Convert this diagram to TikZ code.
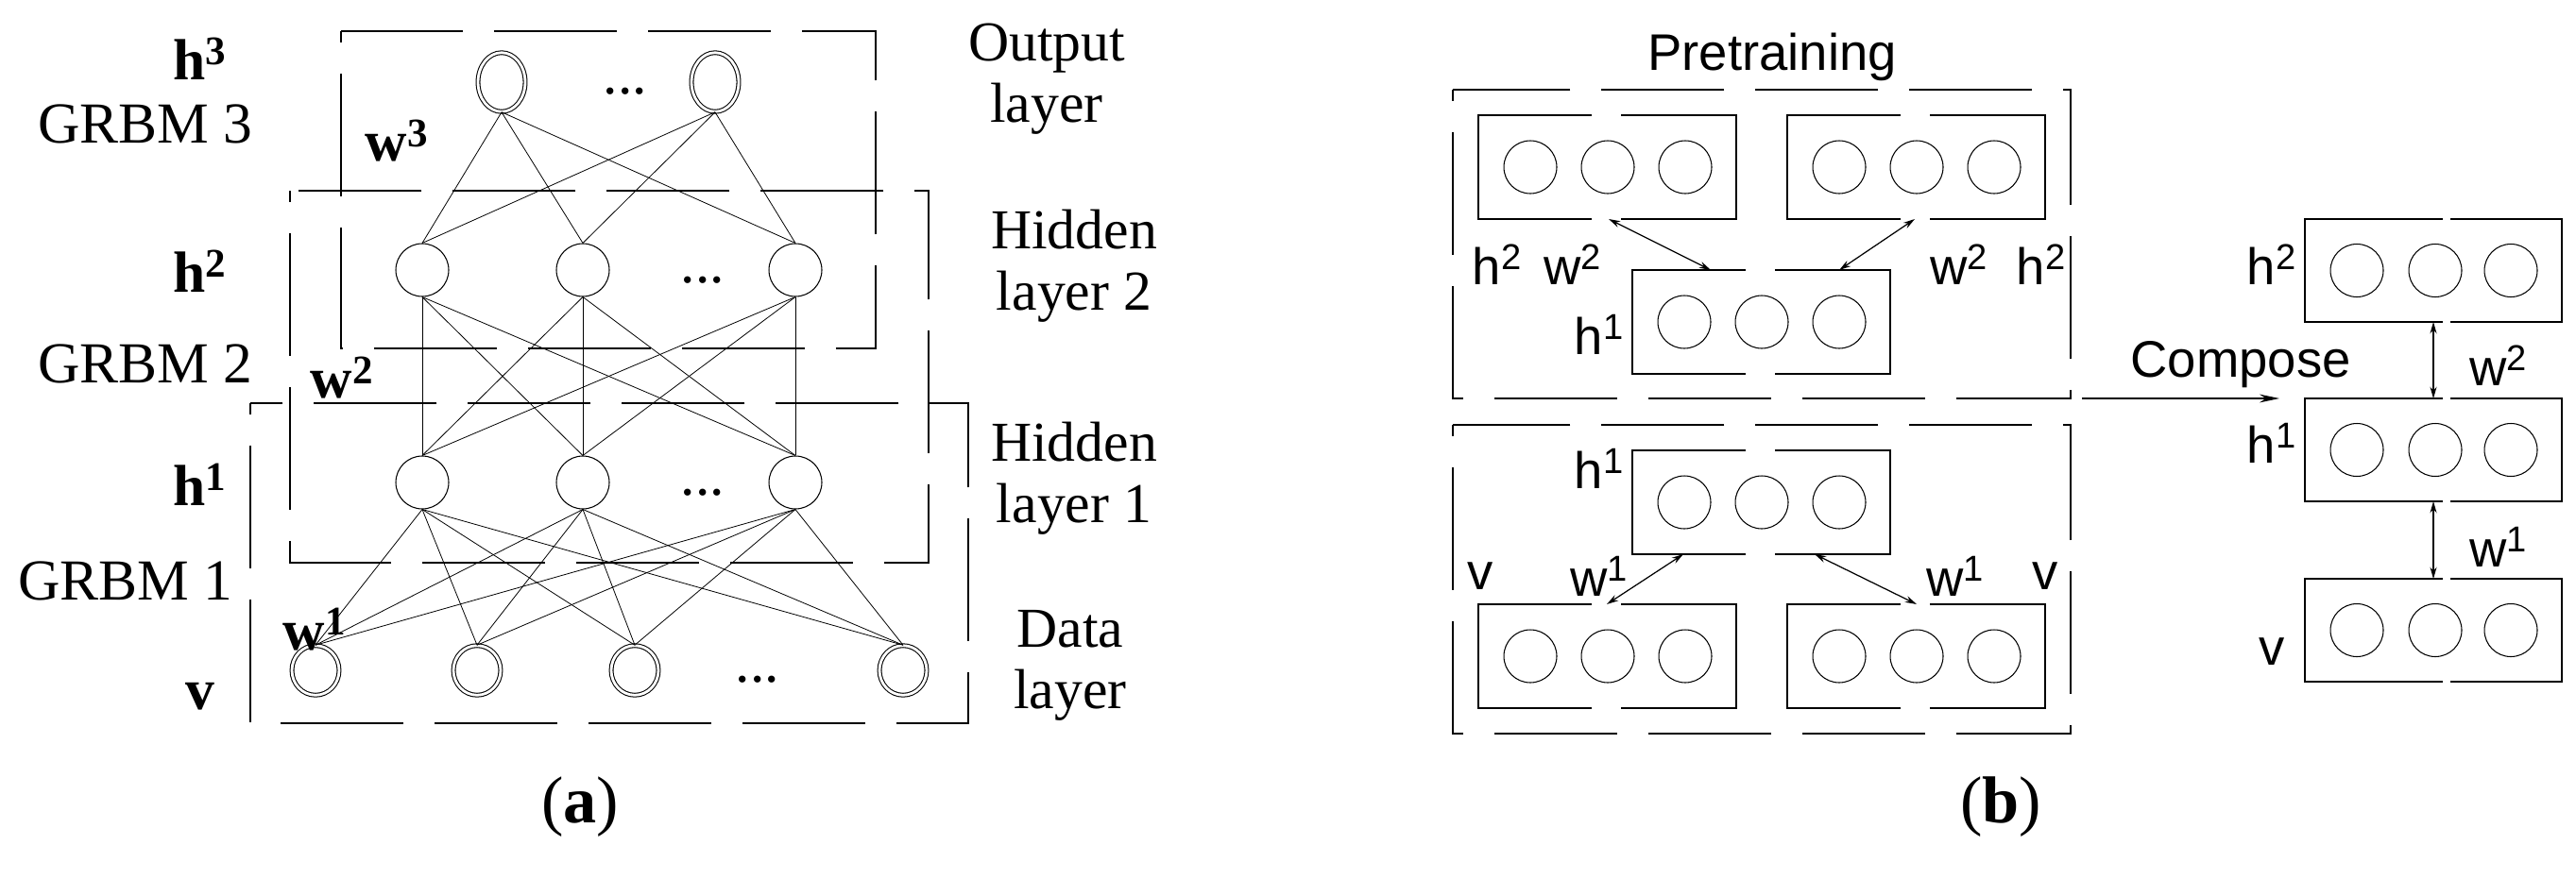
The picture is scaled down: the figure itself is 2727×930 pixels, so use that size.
\documentclass[tikz,border=0pt]{standalone}
\usepackage{fontspec}
\setmainfont{Liberation Serif}
\setsansfont{Liberation Sans}
\usetikzlibrary{shapes.geometric,arrows.meta}
\begin{document}
\begin{tikzpicture}[x=0.02cm,y=-0.02cm,
  unit/.style={draw,ellipse,inner sep=0,minimum width=1.12cm,minimum height=1.12cm,line width=0.6pt},
  dunit/.style={unit,double,double distance=1.6pt,minimum width=1.0cm,minimum height=1.05cm},
  ounit/.style={dunit,minimum height=1.25cm},
  frame/.style={line width=0.8pt,dash pattern=on 2.6cm off 0.66cm,dash phase=-0.9cm},
  ibox/.style={line width=0.8pt},
  link/.style={line width=0.45pt},
  dbl/.style={line width=0.7pt,{Stealth[length=7pt,width=4pt]}-{Stealth[length=7pt,width=4pt]}},
  slab/.style={font=\fontsize{35}{38}\selectfont,inner sep=0},
  rlab/.style={font=\fontsize{34}{37}\selectfont,align=center,inner sep=0},
  blab/.style={font=\fontsize{35}{38}\selectfont\bfseries,inner sep=0},
  sf/.style={font=\fontsize{31}{34}\sffamily,inner sep=0}]
\useasboundingbox (0,0) rectangle (2727,930);

% ---------- (a) ----------
\draw[frame] (361,33) rectangle (927,369);
\draw[frame] (307,202) rectangle (983,596);
\draw[frame] (265,427) rectangle (1025,766);

\node[ounit] (o1) at (531,87) {};
\node[ounit] (o2) at (757,87) {};
\node[slab] (od) at (662,97) {...};
\foreach \i/\x in {1/447,2/617,3/842} {
  \node[unit] (a\i) at (\x,286) {};
  \node[unit] (b\i) at (\x,511) {};
}
\node[slab] (ad) at (744,297) {...};
\node[slab] (bd) at (744,522) {...};
\foreach \i/\x in {1/334,2/505,3/672,4/956}
  \node[dunit] (v\i) at (\x,710) {};
\node[slab] (vd) at (802,720) {...};

\foreach \o in {o1,o2} \foreach \a in {a1,a2,a3}
  \draw[link] (\o.south) -- (\a.north);
\foreach \a in {a1,a2,a3} \foreach \b in {b1,b2,b3}
  \draw[link] (\a.south) -- (\b.north);
\foreach \b in {b1,b2,b3} \foreach \v in {v1,v2,v3,v4}
  \draw[link] (\b.south) -- (\v.north);

\node[blab] (lh3) at (212,62) {h\textsuperscript{3}};
\node[slab] (g3) at (154,131) {GRBM 3};
\node[blab] (lw3) at (420,149) {w\textsuperscript{3}};
\node[blab] (lh2) at (212,287) {h\textsuperscript{2}};
\node[slab] (g2) at (154,385) {GRBM 2};
\node[blab] (lw2) at (362,400) {w\textsuperscript{2}};
\node[blab] (lh1) at (212,513) {h\textsuperscript{1}};
\node[slab] (g1) at (133,615) {GRBM 1};
\node[blab] (lw1) at (333,667) {w\textsuperscript{1}};
\node[blab] (lv) at (212,738) {v};

\node[rlab] (tout) at (1108,84) {Output\\layer};
\node[rlab] (thid2) at (1137,282) {Hidden\\layer 2};
\node[rlab] (thid1) at (1137,507) {Hidden\\layer 1};
\node[rlab] (tdat) at (1133,705) {Data\\layer};

\node[font=\fontsize{40}{44}\selectfont,inner sep=0] (capa) at (614,855) {(\textbf{a})};

% ---------- (b) ----------
\node[sf] (pre) at (1876,60) {Pretraining};
\draw[frame] (1538,95) rectangle (2192,422);
\draw[frame] (1538,450) rectangle (2192,777);

\foreach \n/\x/\y in {tl/1565/122, tr/1892/122, tm/1728/286, bm/1728/477, bl/1565/640, br/1892/640} {
  \draw[ibox] (\x+120,\y) -- (\x,\y) -- (\x,\y+110) -- (\x+120,\y+110);
  \draw[ibox] (\x+151,\y) -- (\x+273,\y) -- (\x+273,\y+110) -- (\x+151,\y+110);
  \foreach \k/\dx in {1/55,2/137,3/219}
    \node[unit] (\n\k) at (\x+\dx,\y+55) {};
}
\coordinate (tlA) at (1703,232); \coordinate (tmA) at (1811,286);
\coordinate (trA) at (2027,232); \coordinate (tmB) at (1947,286);
\coordinate (bmA) at (1782,587); \coordinate (blA) at (1701,640);
\coordinate (bmB) at (1921,587); \coordinate (brA) at (2029,640);
\draw[dbl] (tlA) -- (tmA);
\draw[dbl] (trA) -- (tmB);
\draw[dbl] (bmA) -- (blA);
\draw[dbl] (bmB) -- (brA);

\node[sf] (p1) at (1585,280) {h\textsuperscript{2}};
\node[sf] (p2) at (1665,280) {w\textsuperscript{2}};
\node[sf] (p3) at (2074,280) {w\textsuperscript{2}};
\node[sf] (p4) at (2161,280) {h\textsuperscript{2}};
\node[sf] (p5) at (1693,354) {h\textsuperscript{1}};
\node[sf] (q1) at (1693,496) {h\textsuperscript{1}};
\node[sf] (q2) at (1567,610) {v};
\node[sf] (q3) at (1693,610) {w\textsuperscript{1}};
\node[sf] (q4) at (2070,610) {w\textsuperscript{1}};
\node[sf] (q5) at (2165,610) {v};

% composed stack
\foreach \n/\y in {ch2/232, ch1/422, cv/613} {
  \draw[ibox] (2586,\y) -- (2440,\y) -- (2440,\y+109) -- (2586,\y+109);
  \draw[ibox] (2594,\y) -- (2712,\y) -- (2712,\y+109) -- (2594,\y+109);
  \coordinate (\n-n) at (2576,\y);
  \coordinate (\n-s) at (2576,\y+109);
  \foreach \k/\x in {1/2495,2/2578,3/2658}
    \node[unit] (\n\k) at (\x,\y+54.5) {};
}
\draw[dbl] (ch2-s) -- (ch1-n);
\draw[dbl] (ch1-s) -- (cv-n);
\node[sf] (c1) at (2645,387) {w\textsuperscript{2}};
\node[sf] (c2) at (2645,579) {w\textsuperscript{1}};
\node[sf] (c3) at (2405,280) {h\textsuperscript{2}};
\node[sf] (c4) at (2405,469) {h\textsuperscript{1}};
\node[sf] (c5) at (2405,690) {v};

\coordinate (cmpS) at (2204,422);
\coordinate (cmpE) at (2413,422);
\draw[line width=0.7pt,-{Stealth[length=12pt,width=5pt]}] (cmpS) -- (cmpE);
\node[sf] (cmp) at (2372,386) {Compose};

\node[font=\fontsize{40}{44}\selectfont,inner sep=0] (capb) at (2118,855) {(\textbf{b})};
\end{tikzpicture}
\end{document}
